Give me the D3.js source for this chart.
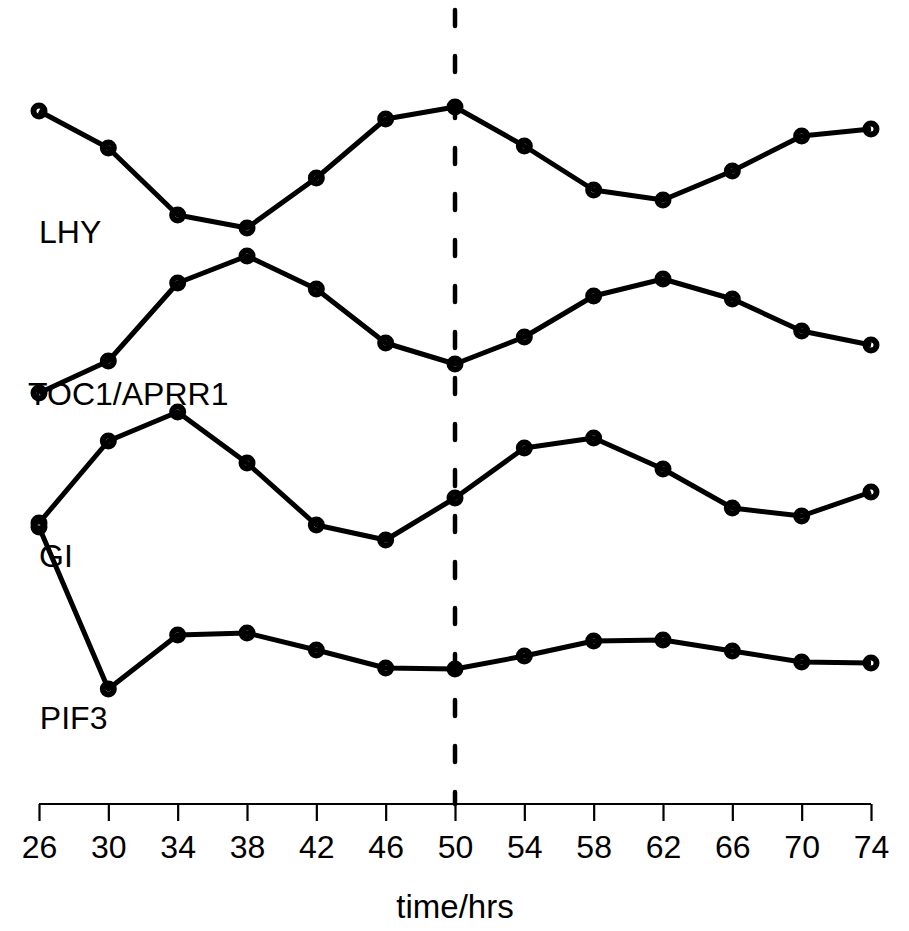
<!DOCTYPE html>
<html>
<head>
<meta charset="utf-8">
<script src="https://cdn.jsdelivr.net/npm/d3@7"></script>
<style>
  html, body { margin: 0; padding: 0; background: #fff; }
  svg { display: block; font-family: "Liberation Sans", Arial, sans-serif; }
</style>
</head>
<body>
<div id="chart-area"></div>
<script>
// time points (hrs)
const times = [26, 30, 34, 38, 42, 46, 50, 54, 58, 62, 66, 70, 74];

// expression levels, offset per gene (arbitrary units)
const lhy  = [6.89, 6.52, 5.85, 5.72, 6.22, 6.81, 6.93, 6.54, 6.10, 6.00, 6.29, 6.64, 6.71];
const toc1 = [4.07, 4.39, 5.17, 5.44, 5.11, 4.57, 4.36, 4.63, 5.04, 5.21, 5.01, 4.69, 4.55];
const gi   = [2.77, 3.59, 3.88, 3.37, 2.75, 2.60, 3.02, 3.52, 3.62, 3.31, 2.92, 2.84, 3.08];
const pif3 = [2.73, 1.11, 1.65, 1.67, 1.50, 1.32, 1.31, 1.44, 1.59, 1.60, 1.49, 1.38, 1.37];

const geneNames = ["LHY", "TOC1/APRR1", "GI", "PIF3"];
const labelTimes = [26.0, 25.37, 26.0, 26.05];
const labelLevels = [5.57, 3.95, 2.33, 0.71];

const markTime = 50;
const xLabel = "time/hrs";

const width = 909, height = 931;

const series = [lhy, toc1, gi, pif3];

const x = d3.scaleLinear().domain([26, 74]).range([39, 871]);
const y = d3.scaleLinear().domain([-0.04, 7.9]).range([804, 10]);

const svg = d3.select("#chart-area")
    .append("svg")
    .attr("width", width)
    .attr("height", height);

// dashed marker line
svg.append("line")
    .attr("x1", x(markTime)).attr("x2", x(markTime))
    .attr("y1", y.range()[1]).attr("y2", y.range()[0])
    .attr("stroke", "#000")
    .attr("stroke-width", 4.5)
    .attr("stroke-linecap", "round")
    .attr("stroke-dasharray", "16,30");

const line = d3.line()
    .x((d, i) => x(times[i]))
    .y(d => y(d));

const g = svg.append("g");

series.forEach((vals, k) => {
    g.append("path")
        .datum(vals)
        .attr("d", line)
        .attr("fill", "none")
        .attr("stroke", "#000")
        .attr("stroke-width", 5)
        .attr("stroke-linejoin", "round");

    g.selectAll(null)
        .data(vals)
        .join("circle")
        .attr("cx", (d, i) => x(times[i]))
        .attr("cy", d => y(d))
        .attr("r", 5.5)
        .attr("fill", "none")
        .attr("stroke", "#000")
        .attr("stroke-width", 6);

    g.append("text")
        .attr("x", x(labelTimes[k]))
        .attr("y", y(labelLevels[k]))
        .attr("font-size", 32)
        .attr("fill", "#000")
        .text(geneNames[k]);
});

// x axis
const axis = svg.append("g")
    .attr("transform", `translate(0,${y.range()[0]})`)
    .call(d3.axisBottom(x).tickValues(times).tickSize(17).tickPadding(14).tickSizeOuter(0));

axis.select(".domain").attr("stroke-width", 2.2).attr("d", `M${x(26)},0H${x(74)}`);
axis.selectAll(".tick line").attr("stroke-width", 2.2);
axis.selectAll(".tick text")
    .attr("font-size", 32)
    .attr("font-family", "Liberation Sans, Arial, sans-serif")
    .attr("fill", "#000");

svg.append("text")
    .attr("x", (x(26) + x(74)) / 2)
    .attr("y", 918)
    .attr("text-anchor", "middle")
    .attr("font-size", 33)
    .attr("fill", "#000")
    .text(xLabel);
</script>
</body>
</html>
